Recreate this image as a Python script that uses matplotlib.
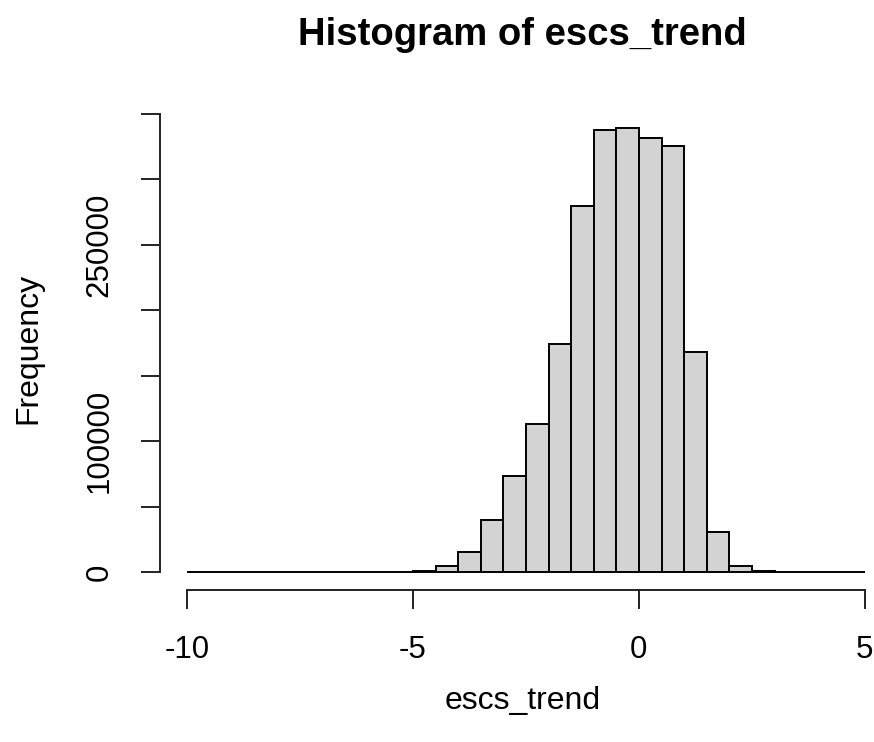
import numpy as np
import matplotlib
matplotlib.use("Agg")
import matplotlib.pyplot as plt

plt.rcParams['font.family'] = ['Liberation Sans', 'DejaVu Sans']

# Histogram data (bin width 0.5, from -10 to 5)
bin_edges = [-10.0, -9.5, -9.0, -8.5, -8.0, -7.5, -7.0, -6.5, -6.0, -5.5,
             -5.0, -4.5, -4.0, -3.5, -3.0, -2.5, -2.0, -1.5, -1.0, -0.5,
             0.0, 0.5, 1.0, 1.5, 2.0, 2.5, 3.0, 3.5, 4.0, 4.5, 5.0]
counts = [0, 0, 0, 0, 0, 0, 0, 0, 0, 0,
          1200, 4800, 15300, 39700, 73300, 113300, 174100, 279700, 337800, 339300,
          331400, 325600, 168000, 30500, 4600, 1000, 600, 0, 0, 0]
x_ticks = [-10, -5, 0, 5]
x_ticklabels = ['-10', '-5', '0', '5']
y_ticks = [0, 50000, 100000, 150000, 200000, 250000, 300000, 350000]
y_ticklabels = ['0', '', '100000', '', '', '250000', '', '']

W, H = 874, 742
fig = plt.figure(figsize=(W / 100, H / 100), dpi=100)

left_px, right_px, top_px, bot_px = 159.9, 892.0, 110.2, 590.1
ax = fig.add_axes([left_px / W, 1 - bot_px / H, (right_px - left_px) / W, (bot_px - top_px) / H])

lw = 1.4
ax.bar(bin_edges[:-1], counts, width=np.diff(bin_edges), align='edge',
       color='#D3D3D3', edgecolor='black', linewidth=lw)

ymax = max(counts)
ax.set_xlim(-10 - 0.04 * 15, 5 + 0.04 * 15)
ax.set_ylim(-0.04 * ymax, ymax * 1.04)

for s in ['top', 'right']:
    ax.spines[s].set_visible(False)
ax.spines['bottom'].set_bounds(x_ticks[0], x_ticks[-1])
ax.spines['left'].set_bounds(y_ticks[0], y_ticks[-1])
for s in ['bottom', 'left']:
    ax.spines[s].set_linewidth(lw)
    ax.spines[s].set_color('#222222')

ax.set_xticks(x_ticks)
ax.set_xticklabels(x_ticklabels)
ax.set_yticks(y_ticks)
ax.set_yticklabels(y_ticklabels, rotation=90, va='center')
ax.tick_params(axis='both', length=13.5, width=lw, color='#222222',
               labelsize=22.5, pad=19)

ax.set_xlabel('escs_trend', fontsize=23)
ax.xaxis.set_label_coords((523 - left_px) / (right_px - left_px), (bot_px - 701) / (bot_px - top_px))
ax.xaxis.label.set_va('center')
ax.set_ylabel('Frequency', fontsize=23)
ax.yaxis.set_label_coords((28 - left_px) / (right_px - left_px), (bot_px - 348) / (bot_px - top_px))
ax.yaxis.label.set_va('center')

fig.text(522 / W, 1 - 35 / H, 'Histogram of escs_trend', ha='center', va='center',
         fontsize=27.5, fontweight='bold')

fig.savefig('out.png', dpi=100, facecolor='white')
